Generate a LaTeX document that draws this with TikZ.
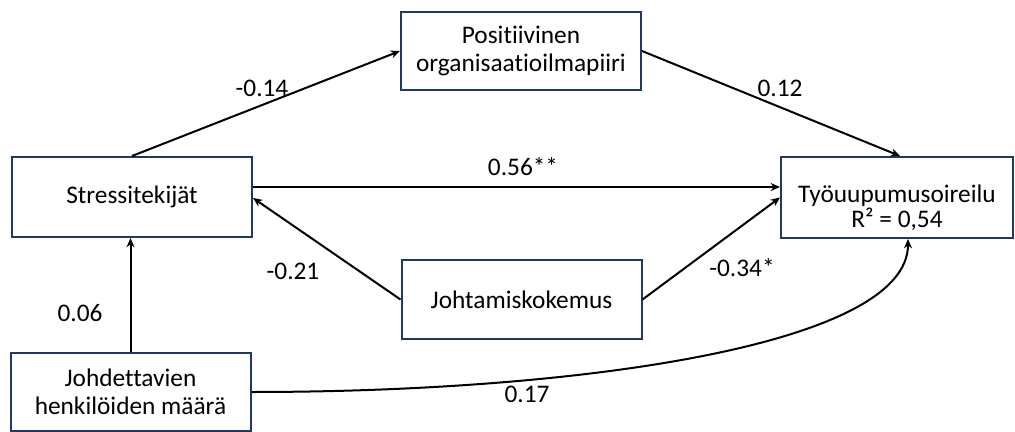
\documentclass[tikz,border=0pt]{standalone}
\usepackage{fontspec}
\setmainfont{Carlito}[Ligatures={NoCommon,NoRare},Contextuals=NoAlternate]
\usetikzlibrary{arrows.meta,calc}
\definecolor{boxnavy}{RGB}{31,56,100}

\tikzset{
  varbox/.style={draw=boxnavy,line width=1.5pt,fill=white,align=center,
    minimum width=180pt,minimum height=60pt,inner sep=0.75pt,
    font=\fontsize{19}{21}\selectfont},
  coef/.style={inner sep=0.75pt,font=\fontsize{19}{21}\selectfont},
  path/.style={line width=1.5pt,-{Stealth[length=7pt,width=6pt]}}
}

\begin{document}
\begin{tikzpicture}[x=0.75pt,y=0.75pt,yscale=-1,xscale=1]
  \useasboundingbox (0,0) rectangle (1015,432);
  %Shape: Rectangle [id:stress]
  \node [varbox] (stress) at (132,197) {Stressitekijät};
  %Shape: Rectangle [id:ilmapiiri]
  \node [varbox,minimum height=58.5pt] (ilmapiiri) at (521,51) {Positiivinen\\organisaatioilmapiiri};
  %Shape: Rectangle [id:uupumus]
  \node [varbox,minimum width=174pt,minimum height=60.75pt] (uupumus) at (897,197.5) {};
  \node [coef,align=center,font=\fontsize{19}{16.5}\selectfont] (uupumusteksti) at (897,208) {Työuupumusoireilu\\R² = 0,54};
  %Shape: Rectangle [id:kokemus]
  \node [varbox,minimum height=59.25pt] (kokemus) at (521.5,299.5) {Johtamiskokemus};
  %Shape: Rectangle [id:maara]
  \node [varbox,minimum height=58.5pt] (maara) at (130.5,392) {Johdettavien\\henkilöiden määrä};

  %Straight Lines
  \draw [path] (stress.north) -- (ilmapiiri.west);
  \draw [path] (ilmapiiri.east) -- ($(uupumus.north)+(3,0)$);
  \draw [path] ($(stress.east)+(0,-10)$) -- ($(uupumus.west)+(0,-10.5)$);
  \draw [path] (kokemus.west) -- ($(stress.east)+(0,1)$);
  \draw [path] (kokemus.east) -- (uupumus.west);
  \draw [path] (maara.north) -- (maara.north |- stress.south);
  %Curve Lines
  \draw [path] (maara.east) .. controls (580,392) and (908,345) .. ($(uupumus.south)+(11,0)$);

  % Text Node
  \node [coef] (b14) at (262,88) {-0.14};
  % Text Node
  \node [coef] (b12) at (780,88) {0.12};
  % Text Node
  \node [coef] (b56) at (523,167) {0.56**};
  % Text Node
  \node [coef] (b21) at (293,271) {-0.21};
  % Text Node
  \node [coef] (b34) at (742,268) {-0.34*};
  % Text Node
  \node [coef] (b06) at (80,313) {0.06};
  % Text Node
  \node [coef] (b17) at (527,394) {0.17};
\end{tikzpicture}
\end{document}
